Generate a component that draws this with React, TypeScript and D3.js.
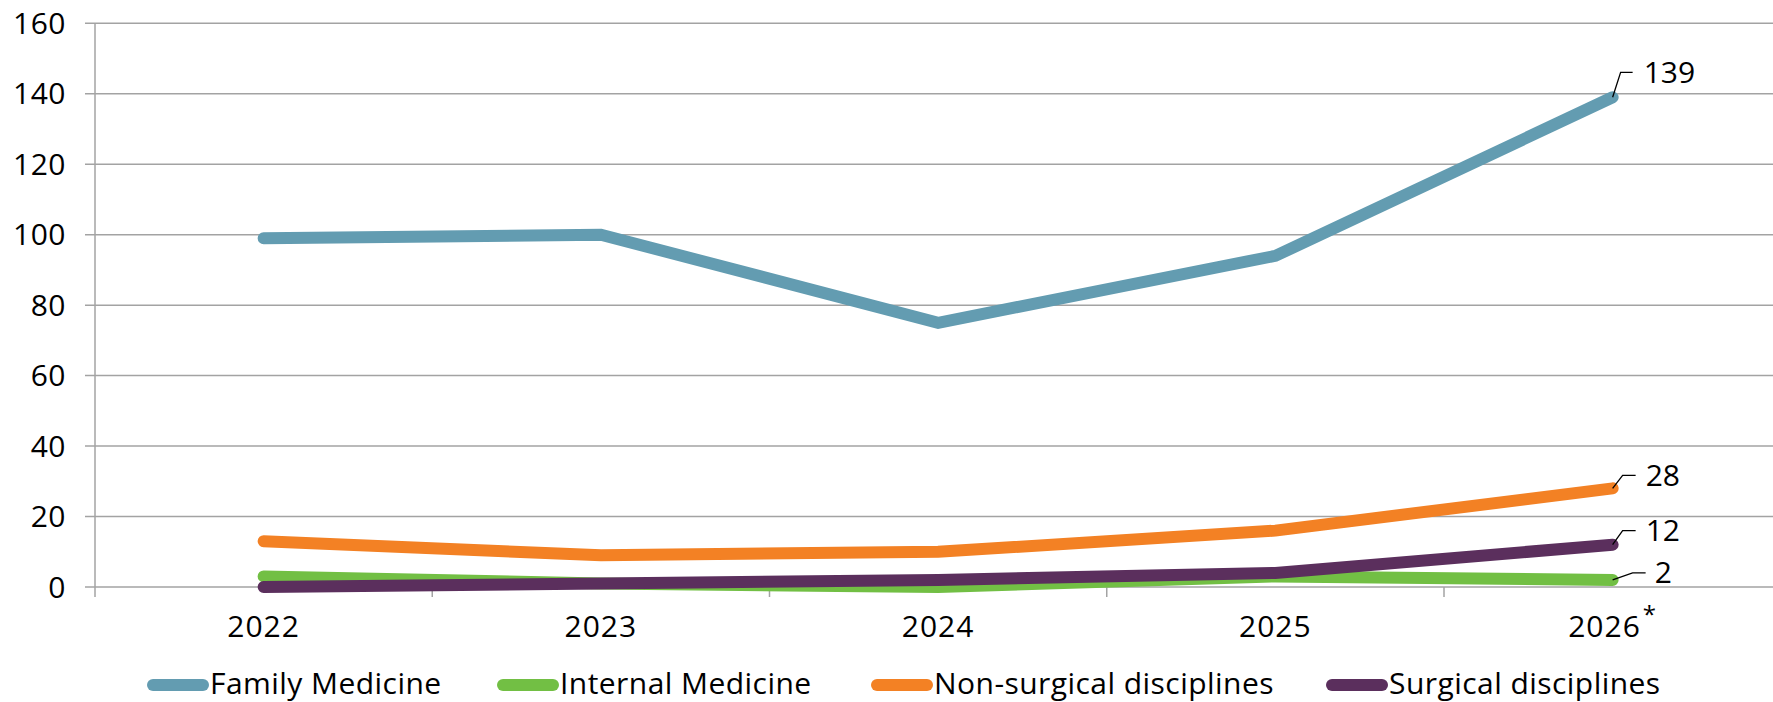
import React, { useEffect } from "react";
import * as d3 from "d3";

const categories = ["2022", "2023", "2024", "2025", "2026"];
const footnoteCategory = "2026";
const yTicks = [0, 20, 40, 60, 80, 100, 120, 140, 160];

const familyMedicine = [99, 100, 75, 94, 139];
const internalMedicine = [3, 1, 0, 3, 2];
const nonSurgical = [13, 9, 10, 16, 28];
const surgical = [0, 1, 2, 4, 12];

const seriesNames = ["Family Medicine", "Internal Medicine", "Non-surgical disciplines", "Surgical disciplines"];
const seriesColors = ["#639cb1", "#72bf44", "#f38124", "#5b2f5d"];
const seriesValues = [familyMedicine, internalMedicine, nonSurgical, surgical];

// label leader geometry (layout only)
const labelLayout = [
  { kx: 8, ky: -25, hx: 20, tx: 31, ty: 10 },
  { kx: 20, ky: -7, hx: 33, tx: 42, ty: 10 },
  { kx: 10, ky: -13, hx: 23, tx: 33, ty: 10 },
  { kx: 10, ky: -14, hx: 23, tx: 33, ty: 10 },
];

const W = 1773;
const H = 702;
const FONT = "'Open Sans', 'Noto Sans', sans-serif";

export default function App() {
  useEffect(() => {
    document.body.style.margin = "0";
  }, []);

  const left = 95;
  const bandW = 337.25;
  const x = d3
    .scaleBand<string>()
    .domain(categories)
    .range([left, left + bandW * categories.length])
    .paddingInner(0)
    .paddingOuter(0);
  const cx = (c: string) => (x(c) as number) + x.bandwidth() / 2;
  const y = d3.scaleLinear().domain([0, 160]).range([587, 23.3]);

  const line = d3
    .line<number>()
    .x((_, i) => cx(categories[i]))
    .y((d) => y(d));

  const gridColor = "#a3a3a3";
  const boundaries = categories.map((c) => x(c) as number).slice(1);

  const legendItems = [
    { sx: 147, tx: 210 },
    { sx: 497, tx: 560 },
    { sx: 871, tx: 934 },
    { sx: 1326, tx: 1389 },
  ];

  const last = categories.length - 1;

  return (
    <svg width={W} height={H} style={{ display: "block" }} fontFamily={FONT}>
      <rect width={W} height={H} fill="#fff" />
      {yTicks.map((t) => (
        <g key={t}>
          <line x1={85} x2={W} y1={y(t)} y2={y(t)} stroke={gridColor} strokeWidth={1.5} />
          <text x={66} y={y(t) + 10.5} textAnchor="end" fontSize={30} fill="#000" letterSpacing={0.5}>
            {t}
          </text>
        </g>
      ))}
      <line x1={left} x2={left} y1={y(160)} y2={597} stroke={gridColor} strokeWidth={1.5} />
      {boundaries.map((b, i) => (
        <line key={i} x1={b} x2={b} y1={587} y2={597} stroke={gridColor} strokeWidth={1.5} />
      ))}
      {categories.map((c) => (
        <text key={c} x={cx(c)} y={637} textAnchor="middle" fontSize={30} fill="#000" letterSpacing={1}>
          {c}
          {c === footnoteCategory ? (
            <tspan dy={-14} fontSize={24} dx={2}>
              *
            </tspan>
          ) : null}
        </text>
      ))}
      {seriesValues.map((vals, si) => (
        <path
          key={si}
          d={line(vals) as string}
          fill="none"
          stroke={seriesColors[si]}
          strokeWidth={12}
          strokeLinecap="round"
          strokeLinejoin="miter"
        />
      ))}
      {seriesValues.map((vals, si) => {
        const px = cx(categories[last]);
        const py = y(vals[last]);
        const L = labelLayout[si];
        return (
          <g key={si}>
            <polyline
              points={`${px},${py} ${px + L.kx},${py + L.ky} ${px + L.hx},${py + L.ky}`}
              fill="none"
              stroke="#000"
              strokeWidth={1.3}
            />
            <text x={px + L.tx} y={py + L.ky + L.ty + 0.5} fontSize={30} fill="#000">
              {vals[last]}
            </text>
          </g>
        );
      })}
      {seriesNames.map((n, i) => (
        <g key={n}>
          <line
            x1={legendItems[i].sx + 6}
            x2={legendItems[i].tx - 7}
            y1={685}
            y2={685}
            stroke={seriesColors[i]}
            strokeWidth={12}
            strokeLinecap="round"
          />
          <text x={legendItems[i].tx} y={694} fontSize={30} fill="#000" letterSpacing={0.45}>
            {n}
          </text>
        </g>
      ))}
    </svg>
  );
}
